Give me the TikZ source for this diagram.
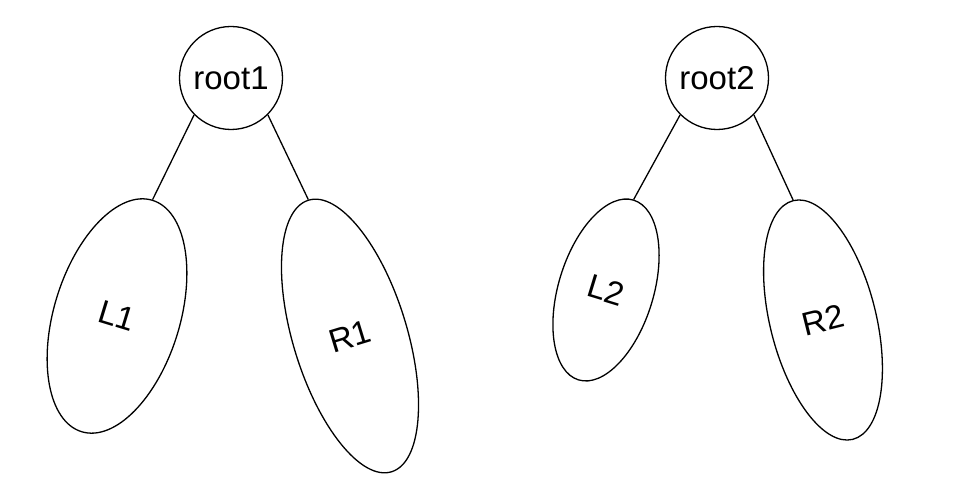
\documentclass[tikz,border=0pt]{standalone}
\usepackage{fontspec}
\setmainfont{Liberation Sans}
\usetikzlibrary{shapes.geometric}

\begin{document}
\begin{tikzpicture}[x=1pt, y=1pt, line width=1.3pt,
	rootnode/.style={draw, circle, inner sep=0pt, minimum size=103pt},
	subtree/.style={draw, ellipse, inner sep=0pt},
	every node/.style={font=\fontsize{33}{40}\selectfont}]
	\useasboundingbox (0, 0) rectangle (958, 494);

	% \subtree#name#x#y#width#height#angle#label
	\def\subtree#1#2#3#4#5#6#7{
		\node[subtree, minimum width=#4pt, minimum height=#5pt, rotate=#6] (#1) at (#2, #3) {#7};
	}

	% first tree
	\node[rootnode] (root1) at (231, 416) {root1};
	\subtree{L1}{117}{178}{126}{242}{-17}{L1}
	\subtree{R1}{350}{158}{114}{284}{17}{R1}
	\draw (root1.south west) -- (L1.north);
	\draw (root1.south east) -- (R1.north);

	% second tree
	\node[rootnode] (root2) at (717, 416) {root2};
	\subtree{L2}{606}{204}{95}{188}{-17}{L2}
	\subtree{R2}{823}{174}{106}{246}{14}{R2}
	\draw (root2.south west) -- (L2.north);
	\draw (root2.south east) -- (R2.north);
\end{tikzpicture}
\end{document}
